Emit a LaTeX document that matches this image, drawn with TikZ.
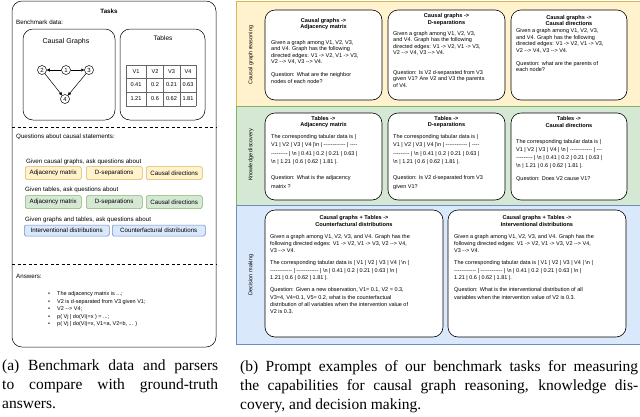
\documentclass[tikz,border=0pt]{standalone}
\usepackage{fontspec}
\setmainfont{Liberation Serif}
\newfontfamily\diagfont{Liberation Sans}
\usetikzlibrary{positioning,arrows.meta}

\definecolor{yelfill}{HTML}{FFF2CC}
\definecolor{yeldraw}{HTML}{D6B656}
\definecolor{grnfill}{HTML}{D5E8D4}
\definecolor{grndraw}{HTML}{82B366}
\definecolor{blufill}{HTML}{DAE8FC}
\definecolor{bludraw}{HTML}{6C8EBF}

\newcommand{\dfont}[2]{\diagfont\fontsize{#1}{#2}\selectfont}
\newcommand{\bsn}{\textbackslash n}

\tikzset{
  panel/.style={draw, line width=0.5pt, rounded corners=10pt},
  card/.style={draw, fill=white, line width=0.6pt, rounded corners=10pt},
  band/.style={line width=0.6pt},
  cardhead/.style={font=\dfont{5.6}{6.6}\bfseries, align=center, inner sep=0pt},
  cardbody/.style={font=\dfont{5.5}{6.5}, align=left, anchor=north west, inner sep=0pt},
  bandlbl/.style={font=\dfont{5.5}{6.5}, rotate=90, inner sep=0pt},
  lbl/.style={font=\dfont{6.2}{7.5}, anchor=west, inner sep=0pt},
  tag/.style={draw, rounded corners=1.5pt, line width=0.5pt, inner sep=0pt,
    minimum height=13pt, anchor=west, font=\dfont{6.2}{7}},
  gnode/.style={draw, circle, inner sep=0pt, minimum size=9pt, line width=0.5pt, font=\dfont{6}{7}},
  garrow/.style={-{Triangle[length=3pt,width=3pt]}, line width=0.5pt},
  cell/.style={inner sep=0pt, font=\dfont{5.6}{6.5}},
  tabline/.style={draw=black!60, line width=0.4pt},
  divider/.style={line width=0.6pt, dash pattern=on 3pt off 2.5pt},
  caption/.style={font=\fontsize{15.5}{19}\selectfont, align=left, anchor=north west, inner sep=0pt}
}

\begin{document}
\begin{tikzpicture}[x=1pt, y=-1pt]
  \useasboundingbox (0,0) rectangle (640,416);

  % (a) tasks panel
  \draw[panel] (12,1) rectangle (216,347);
  \node[font=\dfont{6.2}{7}\bfseries] (tasks) at (109,11) {Tasks};
  \node[lbl] (bench) at (16,22) {Benchmark data:};

  \draw[panel] (23,29) rectangle (115,120);
  \node[font=\dfont{7}{8}] (cglbl) at (66,42) {Causal Graphs};
  \node[gnode] (n1) at (66,70) {1};
  \node[gnode] (n2) at (42,70) {2};
  \node[gnode] (n3) at (89,70) {3};
  \node[gnode] (n4) at (65,99) {4};
  \draw[garrow] (n1) -- (n2);
  \draw[garrow] (n1) -- (n3);
  \draw[garrow] (n2) -- (n4);
  \draw[garrow] (n3) -- (n4);

  \draw[panel] (120,29) rectangle (205,120);
  \node[font=\dfont{6.5}{8}] (tablbl) at (163,38) {Tables};
  \foreach \x in {126,146.5,163,180,196}
    \draw[tabline] (\x,65) -- (\x,106);
  \foreach \y in {65,78.5,92,106}
    \draw[tabline] (126,\y) -- (196,\y);
  \foreach \r/\y/\a/\b/\c/\d in {0/71.7/V1/V2/V3/V4, 1/85/0.41/0.2/0.21/0.63, 2/99/1.21/0.6/0.62/1.81}{
    \node[cell] (t\r a) at (136,\y) {\a};
    \node[cell] (t\r b) at (155,\y) {\b};
    \node[cell] (t\r c) at (171.5,\y) {\c};
    \node[cell] (t\r d) at (188,\y) {\d};
  }

  \draw[divider] (12,127) -- (216,127);
  \node[lbl] (quest) at (16,137) {Questions about causal statements:};

  % question tags
  \node[lbl] (askg) at (26,162) {Given causal graphs, ask questions about};
  \node[lbl] (askt) at (25,190) {Given tables, ask questions about};
  \node[lbl] (askb) at (25,220) {Given graphs and tables, ask questions about};
  \foreach \n/\x/\t in {a/25/Adjacency matrix, b/86/D-separations, c/146/Causal directions}{
    \node[tag, fill=yelfill, draw=yeldraw, minimum width=56pt] (yt\n) at (\x,173) {\t};
    \node[tag, fill=grnfill, draw=grndraw, minimum width=56pt] (gt\n) at (\x,202) {\t};
  }
  \node[tag, fill=blufill, draw=bludraw, minimum width=85pt, minimum height=11pt] (bta) at (24,230.5) {Interventional distributions};
  \node[tag, fill=blufill, draw=bludraw, minimum width=93pt, minimum height=11pt] (btb) at (112,230.5) {Counterfactural distributions};

  \draw[divider] (12,264) -- (216,264);
  \node[lbl] (answ) at (16,276) {Answers:};
  \node[cardbody, font=\dfont{5.5}{7.5}] (alist) at (48,291.5) {%
    \makebox[9pt][l]{\textbullet}The adjacency matrix is ...;\\
    \makebox[9pt][l]{\textbullet}V2 is d-separated from V3 given V1;\\
    \makebox[9pt][l]{\textbullet}V2 --> V4;\\
    \makebox[9pt][l]{\textbullet}p( Vj | do(Vi)=x ) = ...;\\
    \makebox[9pt][l]{\textbullet}p( Vj | do(Vi)=x, V1=a, V2=b, ... )};

  % (b) prompt bands
  \draw[band, fill=yelfill, draw=yeldraw] (236,1) rectangle (645,106);
  \draw[band, fill=grnfill, draw=grndraw] (236,106) rectangle (645,205);
  \draw[band, fill=blufill, draw=bludraw] (236,205) rectangle (645,344);
  \node[bandlbl] (lreason) at (251,55) {Causal graph reasoning};
  \node[bandlbl] (ldisc) at (251,155) {Knowledge discovery};
  \node[bandlbl] (ldec) at (251,275) {Decision making};

  % causal graph reasoning
  \draw[card] (265,10) rectangle (382,100);
  \draw[card] (388,10) rectangle (505,100);
  \draw[card] (511,10) rectangle (627,100);
  \node[cardhead] (y1h) at (323.5,24) {Causal graphs ->\\Adjacency matrix};
  \node[cardbody] (y1b) at (271,40) {Given a graph among V1, V2, V3,\\
    and V4. Graph has the following\\
    directed edges: V1 -> V2, V1 -> V3,\\
    V2 --> V4, V3 --> V4.\\[6.5pt]
    Question: What are the neighbor\\
    nodes of each node?};
  \node[cardhead] (y2h) at (446.5,19.5) {Causal graphs ->\\D-separations};
  \node[cardbody] (y2b) at (393,31) {Given a graph among V1, V2, V3,\\
    and V4. Graph has the following\\
    directed edges: V1 -> V2, V1 -> V3,\\
    V2 --> V4, V3 --> V4.\\[13pt]
    Question: Is V2 d-separated from V3\\
    given V1? Are V2 and V3 the parents\\
    of V4.};
  \node[cardhead] (y3h) at (569,20.3) {Causal graphs ->\\Causal directions};
  \node[cardbody] (y3b) at (516,28.5) {Given a graph among V1, V2, V3,\\
    and V4. Graph has the following\\
    directed edges: V1 -> V2, V1 -> V3,\\
    V2 --> V4, V3 --> V4.\\[6.5pt]
    Question: what are the parents of\\
    each node?};

  % knowledge discovery
  \draw[card] (265,113) rectangle (382,200);
  \draw[card] (388,113) rectangle (505,200);
  \draw[card] (511,113) rectangle (627,200);
  \node[cardhead] (g1h) at (323.5,122) {Tables ->\\Adjacency matrix};
  \node[cardbody, font=\dfont{5.5}{8.3}] (g1b) at (271,134.5) {The corresponding tabular data is |\\
    V1 | V2 | V3 | V4 |\bsn{} | ------------ | ----\\
    --------- | \bsn{} | 0.41 | 0.2 | 0.21 | 0.63 |\\
    \bsn{} | 1.21 | 0.6 | 0.62 | 1.81 |.\\[8pt]
    Question: What is the adjacency\\
    matrix ?};
  \node[cardhead] (g2h) at (446.5,122) {Tables ->\\D-separations};
  \node[cardbody, font=\dfont{5.5}{8.3}] (g2b) at (393,134.5) {The corresponding tabular data is |\\
    V1 | V2 | V3 | V4 |\bsn{} | ------------ | ----\\
    --------- | \bsn{} | 0.41 | 0.2 | 0.21 | 0.63 |\\
    \bsn{} | 1.21 | 0.6 | 0.62 | 1.81 |.\\[8pt]
    Question: Is V2 d-separated from V3\\
    given V1?};
  \node[cardhead] (g3h) at (569,122) {Tables ->\\Causal directions};
  \node[cardbody, font=\dfont{5.5}{8}] (g3b) at (516,139.5) {The corresponding tabular data is |\\
    V1 | V2 | V3 | V4 | \bsn{} | ------------ | ---\\
    --------- | \bsn{} | 0.41 | 0.2 | 0.21 | 0.63 |\\
    \bsn{} | 1.21 | 0.6 | 0.62 | 1.81 |.\\[5pt]
    Question: Does V2 cause V1?};

  % decision making
  \draw[card] (265,210) rectangle (443,337);
  \draw[card] (448,210) rectangle (626,337);
  \node[cardhead] (b1h) at (354,221) {Causal graphs + Tables ->\\Counterfactural distributions};
  \node[cardbody, font=\dfont{5.5}{7.4}] (b1b) at (270,234) {Given a graph among V1, V2, V3, and V4. Graph has the\\
    following directed edges: V1 -> V2, V1 -> V3, V2 --> V4,\\
    V3 --> V4.\\[4.6pt]
    The corresponding tabular data is | V1 | V2 | V3 | V4 | \bsn{} |\\
    ------------ | ------------ | \bsn{} | 0.41 | 0.2 | 0.21 | 0.63 | \bsn{} |\\
    1.21 | 0.6 | 0.62 | 1.81 |.\\[4.6pt]
    Question: Given a new observation, V1= 0.1, V2 = 0.3,\\
    V3=4, V4=0.1, V5= 0.2, what is the counterfactual\\
    distribution of all variables when the intervention value of\\
    V2 is 0.3.};
  \node[cardhead] (b2h) at (537,221) {Causal graphs + Tables ->\\Interventional distributions};
  \node[cardbody, font=\dfont{5.5}{7.4}] (b2b) at (454,234) {Given a graph among V1, V2, V3, and V4. Graph has the\\
    following directed edges: V1 -> V2, V1 -> V3, V2 --> V4,\\
    V3 --> V4.\\[4.6pt]
    The corresponding tabular data is | V1 | V2 | V3 | V4 | \bsn{} |\\
    ------------ | ------------ | \bsn{} | 0.41 | 0.2 | 0.21 | 0.63 | \bsn{} |\\
    1.21 | 0.6 | 0.62 | 1.81 |.\\[4.6pt]
    Question: What is the interventional distribution of all\\
    variables when the intervention value of V2 is 0.3.};

  % captions
  \node[caption] (capa) at (2,360) {\makebox[216pt][s]{(a) Benchmark data and parsers}\\
    \makebox[216pt][s]{to compare with ground-truth}\\
    answers.};
  \node[caption] (capb) at (240,360) {\makebox[398pt][s]{(b) Prompt examples of our benchmark tasks for measuring}\\
    \makebox[398pt][s]{the capabilities for causal graph reasoning, knowledge dis-}\\
    covery, and decision making.};
\end{tikzpicture}
\end{document}
